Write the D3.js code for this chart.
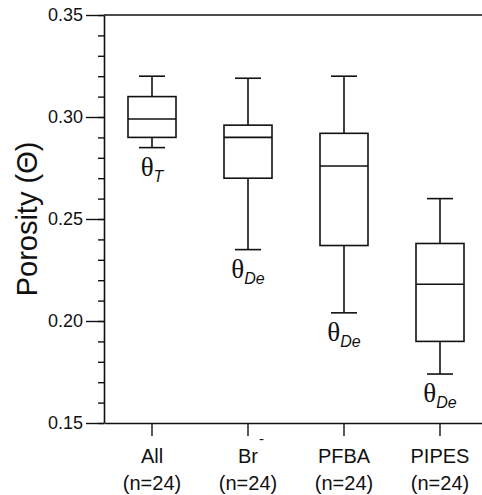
<!DOCTYPE html>
<html>
<head>
<meta charset="utf-8">
<script src="https://cdn.jsdelivr.net/npm/d3@7"></script>
<style>
  body { margin: 0; background: #fff; }
  svg { display: block; }
</style>
</head>
<body>
<svg id="chart"></svg>
<script>
// box plot values
const categories = ["All", "Br", "PFBA", "PIPES"]
const countLabels = ["(n=24)", "(n=24)", "(n=24)", "(n=24)"]
const whiskerHigh = [0.320, 0.319, 0.320, 0.260]
const q3 = [0.310, 0.296, 0.292, 0.238]
const median = [0.299, 0.290, 0.276, 0.218]
const q1 = [0.290, 0.270, 0.237, 0.190]
const whiskerLow = [0.285, 0.235, 0.204, 0.174]
const thetaSubs = ["T", "De", "De", "De"]
const majorTicks = [0.15, 0.20, 0.25, 0.30, 0.35]

const width = 482, height = 495
const margin = { top: 15, left: 104, bottom: 72 }
const plotW = 384 // 4 bands of 96, right spine falls off the page
const sans = "'Liberation Sans', Arial, sans-serif"
const serif = "'Liberation Serif', 'Times New Roman', serif"
const ink = "#111"

const svg = d3.select("#chart")
    .attr("width", width)
    .attr("height", height)

const x = d3.scaleBand()
    .domain(categories)
    .range([margin.left, margin.left + plotW])

const y = d3.scaleLinear()
    .domain([0.15, 0.35])
    .range([height - margin.bottom, margin.top])

const boxes = categories.map((c, i) => ({
    cat: c,
    hi: whiskerHigh[i],
    q3: q3[i],
    med: median[i],
    q1: q1[i],
    lo: whiskerLow[i],
    sub: thetaSubs[i]
}))

// frame: top line
svg.append("line")
    .attr("x1", margin.left).attr("x2", margin.left + plotW)
    .attr("y1", y(0.35)).attr("y2", y(0.35))
    .attr("stroke", ink).attr("stroke-width", 1.6)

// minor ticks on left axis
svg.append("g")
    .attr("transform", `translate(${margin.left},0)`)
    .call(d3.axisLeft(y).tickValues(d3.range(15, 36).map(v => v / 100)).tickSize(6).tickFormat(""))
    .call(g => g.select(".domain").remove())
    .call(g => g.selectAll("line").attr("stroke", ink).attr("stroke-width", 1.4))

// major ticks + labels
svg.append("g")
    .attr("transform", `translate(${margin.left},0)`)
    .call(d3.axisLeft(y).tickValues(majorTicks).tickSize(18).tickSizeOuter(0).tickPadding(3).tickFormat(d3.format(".2f")))
    .call(g => g.select(".domain").attr("stroke", ink).attr("stroke-width", 1.6))
    .call(g => g.selectAll("line").attr("stroke", ink).attr("stroke-width", 1.4))
    .call(g => g.selectAll("text").attr("font-family", sans).attr("font-size", 18).attr("fill", ink))

// bottom axis
svg.append("g")
    .attr("transform", `translate(0,${y(0.15)})`)
    .call(d3.axisBottom(x).tickSize(13).tickSizeOuter(0).tickFormat(""))
    .call(g => g.select(".domain").attr("stroke", ink).attr("stroke-width", 1.6))
    .call(g => g.selectAll("line").attr("stroke", ink).attr("stroke-width", 1.4))

svg.append("g")
    .selectAll("text")
    .data(categories)
    .join("text")
    .attr("x", d => x(d) + x.bandwidth() / 2)
    .attr("y", 463)
    .attr("text-anchor", "middle")
    .attr("font-family", sans)
    .attr("font-size", 20)
    .attr("fill", ink)
    .text(d => d)

// Br superscript minus
svg.append("text")
    .attr("x", x("Br") + x.bandwidth() / 2 + 11)
    .attr("y", 444)
    .attr("font-family", sans)
    .attr("font-size", 15)
    .attr("fill", ink)
    .text("-")

svg.append("g")
    .selectAll("text")
    .data(categories)
    .join("text")
    .attr("x", d => x(d) + x.bandwidth() / 2)
    .attr("y", 490)
    .attr("text-anchor", "middle")
    .attr("font-family", sans)
    .attr("font-size", 20)
    .attr("fill", ink)
    .text((d, i) => countLabels[i])

// y axis title
svg.append("text")
    .attr("transform", `translate(37,${(y(0.15) + y(0.35)) / 2}) rotate(-90)`)
    .attr("text-anchor", "middle")
    .attr("font-family", sans)
    .attr("font-size", 29)
    .attr("fill", ink)
    .text("Porosity (\u0398)")

// boxes
const boxW = 48, capW = 26
const g = svg.append("g")
    .selectAll("g")
    .data(boxes)
    .join("g")
    .attr("transform", d => `translate(${x(d.cat) + x.bandwidth() / 2},0)`)
    .attr("stroke", ink)
    .attr("stroke-width", 1.6)
    .attr("fill", "none")

g.append("line")
    .attr("y1", d => y(d.hi)).attr("y2", d => y(d.q3))
g.append("line")
    .attr("y1", d => y(d.q1)).attr("y2", d => y(d.lo))
g.append("line")
    .attr("x1", -capW / 2).attr("x2", capW / 2)
    .attr("y1", d => y(d.hi)).attr("y2", d => y(d.hi))
g.append("line")
    .attr("x1", -capW / 2).attr("x2", capW / 2)
    .attr("y1", d => y(d.lo)).attr("y2", d => y(d.lo))
g.append("rect")
    .attr("x", -boxW / 2).attr("width", boxW)
    .attr("y", d => y(d.q3))
    .attr("height", d => y(d.q1) - y(d.q3))
g.append("line")
    .attr("x1", -boxW / 2).attr("x2", boxW / 2)
    .attr("y1", d => y(d.med)).attr("y2", d => y(d.med))

// theta labels under the low whiskers
const th = g.append("text")
    .attr("stroke", "none")
    .attr("fill", ink)
    .attr("text-anchor", "middle")
    .attr("y", d => y(d.lo) + 28)
th.append("tspan")
    .attr("font-family", serif)
    .attr("font-size", 27)
    .text("\u03B8")
th.append("tspan")
    .attr("font-family", sans)
    .attr("font-style", "italic")
    .attr("font-size", 16)
    .attr("dy", 6)
    .text(d => d.sub)
</script>
</body>
</html>
